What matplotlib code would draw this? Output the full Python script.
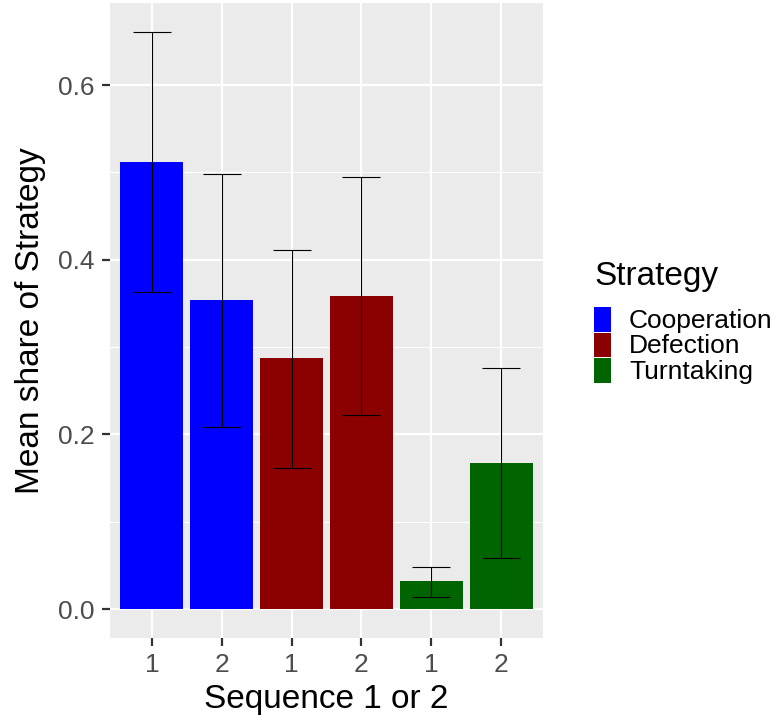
import matplotlib
matplotlib.use("Agg")
import matplotlib.pyplot as plt
from matplotlib.patches import Rectangle
import numpy as np

plt.rcParams['font.family'] = ['Liberation Sans', 'DejaVu Sans']

strategies = ["Cooperation", "Defection", "Turntaking"]
colors = {"Cooperation": "#0000FF", "Defection": "#8B0000", "Turntaking": "#006400"}
bar_strategy = ["Cooperation", "Cooperation", "Defection", "Defection", "Turntaking", "Turntaking"]
tick_labels = ["1", "2", "1", "2", "1", "2"]
means = [0.512, 0.354, 0.287, 0.358, 0.032, 0.167]
err_low = [0.363, 0.209, 0.162, 0.222, 0.014, 0.059]
err_high = [0.661, 0.498, 0.411, 0.495, 0.048, 0.276]

W, H = 777, 722
fig = plt.figure(figsize=(W / 100, H / 100), dpi=100)
fig.patch.set_facecolor("white")
ax = fig.add_axes([110 / W, (H - 638) / H, (543 - 110) / W, (638 - 3) / H])
ax.set_facecolor("#EBEBEB")

x = np.arange(1, len(means) + 1)
ymax = max(err_high)
ax.set_xlim(0.4, len(means) + 0.6)
ax.set_ylim(-0.05 * ymax, ymax * 1.05)

# grid
for yv in [0.1, 0.3, 0.5]:
    ax.axhline(yv, color="white", lw=0.8, zorder=0.5)
for yv in [0.0, 0.2, 0.4, 0.6]:
    ax.axhline(yv, color="white", lw=1.6, zorder=0.6)
for xv in x:
    ax.axvline(xv, color="white", lw=1.6, zorder=0.6)

ax.bar(x, means, width=0.9, color=[colors[s] for s in bar_strategy], zorder=2)
ax.errorbar(x, means,
            yerr=[np.array(means) - np.array(err_low), np.array(err_high) - np.array(means)],
            fmt="none", ecolor="black", elinewidth=0.8, capsize=14, capthick=0.8, zorder=3)

for sp in ax.spines.values():
    sp.set_visible(False)
ax.set_xticks(x)
ax.set_xticklabels(tick_labels)
ax.set_yticks([0.0, 0.2, 0.4, 0.6])
ax.set_yticklabels(["0.0", "0.2", "0.4", "0.6"])
ax.tick_params(axis="both", colors="#333333", labelcolor="#4D4D4D", labelsize=19,
               length=5.5, width=1.6, pad=5.5)
ax.set_xlabel("Sequence 1 or 2", fontsize=24, color="black", labelpad=5)
ax.set_ylabel("Mean share of Strategy", fontsize=24, color="black", labelpad=9)

# legend
fig.text(594 / W, 1 - 276 / H, "Strategy", fontsize=24, va="center", ha="left")
key_top = 307
key_h = 25.5
for i, s in enumerate(strategies):
    y0 = key_top + i * key_h
    fig.add_artist(Rectangle((594 / W, 1 - (y0 + key_h - 1) / H), 17 / W, (key_h - 1) / H,
                             transform=fig.transFigure, facecolor=colors[s], edgecolor="none"))
    fig.text(629 / W, 1 - (y0 + key_h / 2 + 1) / H, s, fontsize=19, va="center", ha="left")

fig.savefig("out.png", dpi=100)
